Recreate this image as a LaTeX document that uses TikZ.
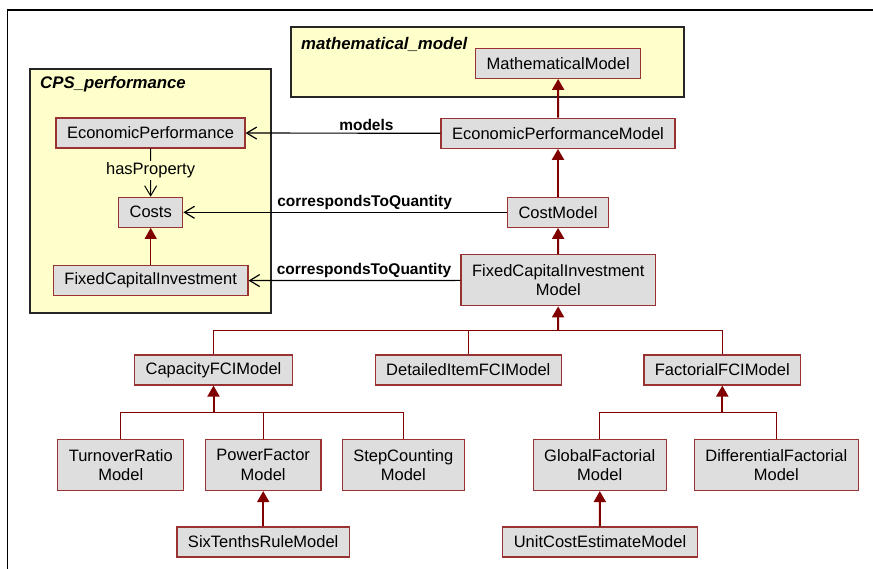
\documentclass[tikz,border=0pt]{standalone}
\usepackage{fontspec}
\setmainfont{Liberation Sans}
\usetikzlibrary{arrows.meta}

\definecolor{pkgyellow}{HTML}{FFFFCC}
\definecolor{boxgray}{HTML}{DEDEDE}
\definecolor{boxred}{HTML}{993333}
\definecolor{genred}{HTML}{800000}

\begin{document}
\begin{tikzpicture}[
  x=1pt, y=-1pt,
  cls/.style={draw=boxred, fill=boxgray, line width=1.2pt, inner xsep=11pt, inner ysep=0pt,
    minimum height=30pt, align=center, font=\fontsize{16.5}{19.5}\selectfont},
  cls2/.style={cls, minimum height=51pt},
  pkg/.style={draw=black!85, fill=pkgyellow, line width=1.2pt},
  pkgtitle/.style={anchor=west, inner sep=0pt, font=\fontsize{16.8}{19}\selectfont\bfseries\itshape},
  gen/.style={draw=genred, line width=2pt, -{Triangle[length=11pt,width=12pt]}},
  branch/.style={draw=genred, line width=1.3pt},
  assoc/.style={draw=black, line width=1.2pt, -{Straight Barb[length=10pt,width=12pt]}},
  rel/.style={inner sep=2pt, font=\fontsize{15.5}{18}\selectfont\bfseries}
]
  \useasboundingbox (0,0) rectangle (873,569);

  % Marco
  \draw[line width=1.5pt] (7.3,569) |- (873,10);

  % Paquetes
  \draw[pkg] (30,69) rectangle (271,313);
  \node[pkgtitle] (cpstitle) at (40,84) {CPS\_performance};
  \draw[pkg] (291,27) rectangle (684,97);
  \node[pkgtitle] (mathtitle) at (301,44) {mathematical\_model};

  % Clases
  \node[cls]  (mm)    at (558.2,63.3)  {MathematicalModel};
  \node[cls]  (epm)   at (558,133.3)   {EconomicPerformanceModel};
  \node[cls]  (cm)    at (558,212.3)   {CostModel};
  \node[cls2] (fcim)  at (558.3,280.3) {FixedCapitalInvestment\\Model};
  \node[cls]  (ep)    at (150.5,133)   {EconomicPerformance};
  \node[cls]  (costs) at (150.7,212.3) {Costs};
  \node[cls]  (fci)   at (150.7,280.7) {FixedCapitalInvestment};
  \node[cls]  (cap)   at (213.5,370)   {CapacityFCIModel};
  \node[cls]  (det)   at (468.3,370)   {DetailedItemFCIModel};
  \node[cls]  (fact)  at (722.3,370)   {FactorialFCIModel};
  \node[cls2] (turn)  at (120.8,465)   {TurnoverRatio\\Model};
  \node[cls2] (pf)    at (263.2,465)   {PowerFactor\\Model};
  \node[cls2] (stepc) at (403.3,465)   {StepCounting\\Model};
  \node[cls2] (glob)  at (599.7,465)   {GlobalFactorial\\Model};
  \node[cls2] (diff)  at (776.3,465)   {DifferentialFactorial\\Model};
  \node[cls]  (six)   at (263.2,542)   {SixTenthsRuleModel};
  \node[cls]  (unit)  at (600,542)     {UnitCostEstimateModel};

  % Generalizaciones
  \foreach \a/\b in {epm/mm, cm/epm, fcim/cm, six/pf, unit/glob} {
    \draw[gen] (\a) -- (\b);
  }
  \draw[gen, line width=1.2pt] (fci) -- (costs);

  \coordinate (bus1) at (558,330.7);
  \coordinate (bus2) at (213.5,412.7);
  \coordinate (bus3) at (722.3,412.7);

  \draw[gen] (bus1) -- (fcim);
  \draw[branch] (cap) |- (bus1) -| (fact);
  \draw[branch] (det) -- (det |- bus1);

  \draw[gen] (bus2) -- (cap);
  \draw[branch] (turn) |- (bus2) -| (stepc);
  \draw[branch] (pf) -- (pf |- bus2);

  \draw[gen] (bus3) -- (fact);
  \draw[branch] (glob) |- (bus3) -| (diff);

  % Asociaciones
  \draw[assoc] (epm) -- node[rel, above, pos=0.38] {models} (ep);
  \draw[assoc] (cm) -- node[rel, above, pos=0.44] {correspondsToQuantity} (costs);
  \draw[assoc] (fcim) -- node[rel, above, pos=0.455] {correspondsToQuantity} (fci);
  \draw[assoc, line width=1pt] (ep) -- node[fill=pkgyellow, inner sep=2pt,
    font=\fontsize{16.5}{19}\selectfont, pos=0.45] {hasProperty} (costs);
\end{tikzpicture}
\end{document}
